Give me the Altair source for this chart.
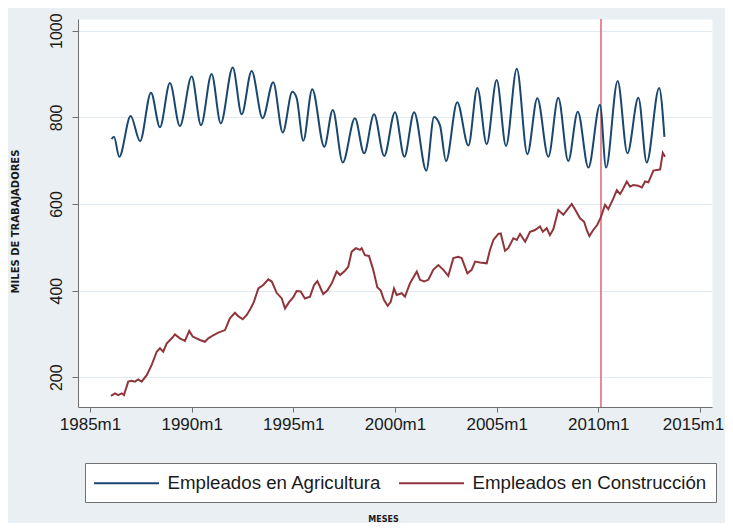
import altair as alt
import pandas as pd

# ---- data ----
series = ["Empleados en Agricultura", "Empleados en Construcción"]
colors = ["#1a476f", "#90353b"]

agri_year = [1986.06, 1986.18, 1986.44, 1987.00, 1987.46, 1988.00, 1988.44, 1988.93,
             1989.42, 1990.00, 1990.46, 1990.98, 1991.43, 1992.02, 1992.46, 1992.95,
             1993.49, 1994.01, 1994.48, 1994.95, 1995.16, 1995.49, 1995.93, 1996.52,
             1996.94, 1997.43, 1998.03, 1998.48, 1998.97, 1999.47, 2000.00, 2000.46,
             2000.94, 2001.54, 2001.92, 2002.21, 2002.51, 2003.06, 2003.61, 2004.05,
             2004.51, 2005.00, 2005.46, 2005.99, 2006.51, 2007.00, 2007.54, 2008.03,
             2008.52, 2008.99, 2009.51, 2010.08, 2010.38, 2010.95, 2011.43, 2011.97,
             2012.38, 2012.99, 2013.25]
agri_val = [750, 755, 709, 803, 745, 857, 777, 879,
            780, 894, 782, 900, 786, 915, 807, 907,
            798, 881, 765, 859, 845, 746, 865, 732,
            817, 696, 798, 717, 807, 711, 812, 709,
            812, 677, 801, 782, 699, 835, 735, 868,
            738, 886, 734, 912, 715, 844, 709, 845,
            699, 813, 684, 829, 684, 884, 717, 845,
            696, 868, 755]

cons_year = [1986.03, 1986.23, 1986.39, 1986.56, 1986.67, 1986.88, 1987.05, 1987.21,
             1987.37, 1987.54, 1987.79, 1988.03, 1988.28, 1988.44, 1988.60, 1988.77,
             1989.02, 1989.18, 1989.42, 1989.67, 1989.88, 1990.05, 1990.41, 1990.65,
             1990.82, 1991.06, 1991.31, 1991.64, 1991.88, 1992.13, 1992.29, 1992.51,
             1992.71, 1992.90, 1993.06, 1993.28, 1993.52, 1993.77, 1993.94, 1994.18,
             1994.43, 1994.59, 1994.80, 1995.00, 1995.16, 1995.36, 1995.57, 1995.82,
             1996.02, 1996.18, 1996.31, 1996.47, 1996.67, 1996.89, 1997.13, 1997.30,
             1997.54, 1997.70, 1997.87, 1998.08, 1998.28, 1998.36, 1998.52, 1998.72,
             1998.93, 1999.13, 1999.30, 1999.46, 1999.64, 1999.79, 1999.95, 2000.08,
             2000.33, 2000.49, 2000.74, 2001.07, 2001.23, 2001.43, 2001.64, 2001.88,
             2002.13, 2002.38, 2002.62, 2002.87, 2003.11, 2003.28, 2003.56, 2003.77,
             2003.94, 2004.18, 2004.51, 2004.67, 2004.84, 2005.08, 2005.20, 2005.41,
             2005.57, 2005.82, 2005.99, 2006.15, 2006.40, 2006.64, 2006.89, 2007.13,
             2007.27, 2007.46, 2007.62, 2007.79, 2008.03, 2008.28, 2008.52, 2008.69,
             2008.85, 2009.10, 2009.30, 2009.43, 2009.56, 2009.75, 2009.95, 2010.12,
             2010.33, 2010.49, 2010.74, 2010.91, 2011.07, 2011.23, 2011.40, 2011.56,
             2011.72, 2011.97, 2012.14, 2012.30, 2012.46, 2012.71, 2012.95, 2013.04,
             2013.17, 2013.28]
cons_val = [157, 163, 159, 163, 159, 190, 192, 190,
            195, 190, 205, 228, 259, 267, 259, 278,
            290, 299, 290, 284, 307, 294, 286, 282,
            290, 297, 303, 309, 336, 349, 341, 334,
            344, 359, 374, 405, 413, 426, 421, 395,
            382, 359, 374, 385, 399, 398, 382, 386,
            413, 422, 409, 392, 400, 417, 444, 436,
            446, 455, 490, 498, 494, 498, 482, 480,
            448, 408, 400, 378, 365, 374, 405, 390,
            394, 386, 417, 444, 425, 421, 425, 448,
            459, 448, 434, 475, 478, 475, 440, 448,
            467, 465, 463, 494, 517, 531, 532, 492,
            498, 521, 517, 531, 513, 536, 540, 548,
            536, 544, 528, 542, 586, 575, 590, 600,
            588, 567, 559, 540, 526, 540, 552, 569,
            598, 588, 613, 632, 623, 636, 652, 640,
            644, 642, 638, 652, 650, 677, 679, 680,
            718, 709]

rule_year = [2010.13]
x_ticks = [1985, 1990, 1995, 2000, 2005, 2010, 2015]
y_ticks = [200, 400, 600, 800, 1000]

df_a = pd.DataFrame({"t": agri_year, "v": agri_val, "serie": series[0]})
df_c = pd.DataFrame({"t": cons_year, "v": cons_val, "serie": series[1]})
df_r = pd.DataFrame({"t": rule_year})

AX = "#6e6e6e"
FONT = "Liberation Sans"

x_enc = alt.X(
    "t:Q",
    scale=alt.Scale(domain=[1984.41, 2015.59], nice=False, zero=False),
    axis=alt.Axis(
        values=x_ticks, labelExpr="datum.value + 'm1'", grid=False,
        domainColor=AX, tickColor=AX, tickSize=5, labelFontSize=17, labelFont=FONT,
        labelColor="#1a1a1a", labelPadding=4, labelFlush=False,
        labelOffset={"condition": {"test": "datum.value == 2015", "value": -7}, "value": 0},
        title="MESES", titleFont="DejaVu Sans", titleFontWeight="bold", titleFontSize=8,
        titleColor="#1a1a1a", titleX=305, titleY=112, titleAlign="center",
        titleBaseline="middle",
    ),
)
y_enc = alt.Y(
    "v:Q",
    scale=alt.Scale(domain=[131.4, 1027], nice=False, zero=False),
    axis=alt.Axis(
        values=y_ticks, format="d", grid=True, gridColor="#e2ebef", gridWidth=1,
        domainColor=AX, tickColor=AX, tickSize=6, labelFontSize=16, labelFont=FONT,
        labelColor="#1a1a1a", labelAngle=270, labelAlign="center", labelBaseline="bottom",
        labelPadding=8, labelFlush=False,
        title="MILES DE TRABAJADORES", titleFont="DejaVu Sans", titleFontWeight="bold",
        titleFontSize=10, titleColor="#1a1a1a", titleAngle=270, titleX=-63, titleY=202,
        titleAlign="center", titleBaseline="middle",
    ),
)
color_enc = alt.Color(
    "serie:N",
    scale=alt.Scale(domain=series, range=colors),
    legend=alt.Legend(
        title=None, orient="none", legendX=7, legendY=444, direction="horizontal",
        symbolType="M-3.25,0H3.25", symbolSize=400, symbolStrokeWidth=2,
        symbolOffset=21.5, labelOffset=30, labelFontSize=18.7, labelFont=FONT,
        labelColor="#1a1a1a", labelLimit=400, columnPadding=13, padding=9,
        strokeColor="#707070", fillColor="white",
    ),
)

rule = alt.Chart(df_r).mark_rule(color="#dc6674", strokeWidth=1.5).encode(x="t:Q")
agri = alt.Chart(df_a).mark_line(interpolate="monotone", strokeWidth=2).encode(
    x=x_enc, y=y_enc, color=color_enc)
cons = alt.Chart(df_c).mark_line(strokeWidth=2).encode(
    x=x_enc, y=y_enc, color=color_enc)

chart = alt.layer(rule, agri, cons).properties(
    width=634, height=388,
    padding={"left": 70, "top": 11, "right": 13, "bottom": 116},
    autosize=alt.AutoSizeParams(type="none"),
    background="#e9eff2",
).configure_view(fill="white", stroke="transparent")

chart.save("out.html", embed_options={"renderer": "svg", "actions": False})
